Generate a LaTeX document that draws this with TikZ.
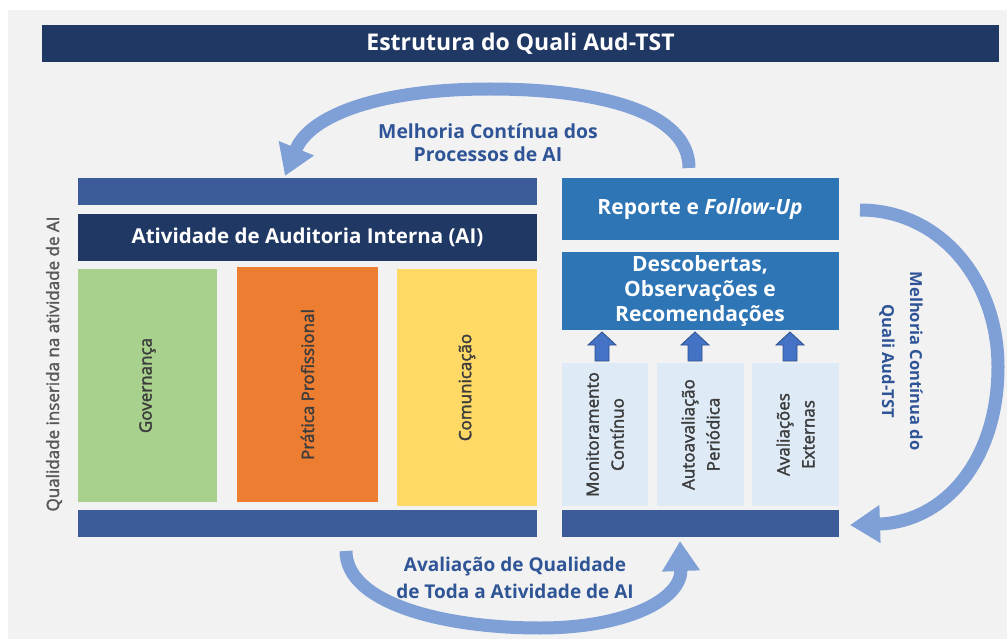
\documentclass[tikz,border=0pt]{standalone}
\usepackage{fontspec}
\setmainfont{Open Sans}
\newfontfamily\semib{Open Sans}[FakeBold=2]
\usetikzlibrary{arrows.meta}
\definecolor{bg}{RGB}{242,242,242}
\definecolor{navy}{RGB}{32,56,100}
\definecolor{midnavy}{RGB}{59,92,153}
\definecolor{repblue}{RGB}{46,117,182}
\definecolor{lightbox}{RGB}{222,235,247}
\definecolor{arcblue}{RGB}{127,160,214}
\definecolor{arctext}{RGB}{47,85,151}
\definecolor{gov}{RGB}{169,209,142}
\definecolor{prat}{RGB}{237,125,49}
\definecolor{com}{RGB}{255,217,102}
\definecolor{darktext}{RGB}{60,60,60}
\definecolor{graytext}{RGB}{89,89,89}
\definecolor{uparrow}{RGB}{68,114,196}
\definecolor{uparrowb}{RGB}{47,82,143}
\tikzset{
  box/.style={draw=none,inner sep=0pt,rectangle},
  whitetext/.style={text=white,font=\fontsize{21}{25}\selectfont\bfseries,align=center},
  vtext/.style={text=darktext,font=\fontsize{17}{25}\selectfont\semib,align=center,rotate=90},
  arctxt/.style={text=arctext,font=\fontsize{19.4}{23}\selectfont\bfseries,align=center},
  arc/.style={draw=arcblue,line width=13pt,-{Triangle[length=30pt,width=36pt]}},
  uparr/.style={draw=uparrowb,fill=uparrow,line width=0.8pt,line join=miter}
}
\begin{document}
\begin{tikzpicture}[x=1pt,y=-1pt]
\useasboundingbox (0,0) rectangle (1007,639);
\fill[white] (0,0) rectangle (1007,639);
\fill[bg] (8,10) rectangle (1007,639);

% title
\node[box,fill=navy,minimum width=957pt,minimum height=37pt,text=white,font=\fontsize{23}{28}\selectfont\bfseries] (title) at (520.5,43.5) {Estrutura do Quali Aud-TST};

% left block
\node[box,fill=midnavy,minimum width=459pt,minimum height=27pt] (ltop) at (307.5,191.5) {};
\node[box,fill=navy,minimum width=459pt,minimum height=47pt,whitetext,font=\fontsize{20.5}{25}\selectfont\bfseries] (ativ) at (307.5,237.5) {Atividade de Auditoria Interna (AI)};
\node[box,fill=gov,minimum width=139pt,minimum height=233pt] (gov) at (147.5,385.5) {};
\node[vtext] at (gov.center) {Governança};
\node[box,fill=prat,minimum width=141pt,minimum height=235pt] (prat) at (307.5,384.5) {};
\node[vtext] at (prat.center) {Prática Profissional};
\node[box,fill=com,minimum width=140pt,minimum height=237pt] (com) at (467,387.5) {};
\node[vtext] at (com.center) {Comunicação};
\node[box,fill=midnavy,minimum width=459pt,minimum height=27pt] (lbot) at (307.5,523) {};

% right block
\node[box,fill=repblue,minimum width=277pt,minimum height=62pt,whitetext] (rep) at (700,209) {Reporte e \textit{Follow-Up}};
\node[box,fill=repblue,minimum width=277pt,minimum height=78pt,whitetext] (desc) at (700,291) {Descobertas,\\Observações e\\Recomendações};
\node[box,fill=lightbox,minimum width=86pt,minimum height=143pt] (mon) at (605,434.5) {};
\node[vtext] at (mon.center) {Monitoramento\\Contínuo};
\node[box,fill=lightbox,minimum width=87pt,minimum height=143pt] (auto) at (700.5,434.5) {};
\node[vtext] at (auto.center) {Autoavaliação\\Periódica};
\node[box,fill=lightbox,minimum width=87pt,minimum height=143pt] (ext) at (795.5,434.5) {};
\node[vtext] at (ext.center) {Avaliações\\Externas};
\node[box,fill=midnavy,minimum width=277pt,minimum height=27pt] (rbot) at (700,523.5) {};

% up arrows
\foreach \cx in {602,695,790}{
  \draw[uparr] (\cx-7,361) -- (\cx-7,345) -- (\cx-14,345) -- (\cx,332) -- (\cx+14,345) -- (\cx+7,345) -- (\cx+7,361) -- cycle;
}

% left vertical text
\node[text=graytext,font=\fontsize{17}{22}\selectfont\semib,rotate=90] (qual) at (54,364) {Qualidade inserida na atividade de AI};

% arcs
\coordinate (ts) at (689,168);
\coordinate (te) at (285,176);
\draw[arc] (ts) .. controls (689,112) and (600,89) .. (490,89) .. controls (380,89) and (310,115) .. (te);
\node[arctxt] (ttxt) at (488,143) {Melhoria Contínua dos\\Processos de AI};

\coordinate (rs) at (860,210);
\coordinate (re) at (850,525);
\draw[arc] (rs) .. controls (940,210) and (998,280) .. (998,367) .. controls (998,460) and (945,522) .. (re);
\node[arctxt,rotate=-90,font=\fontsize{16.5}{28}\selectfont\bfseries] (rtxt) at (901,361) {Melhoria Contínua do\\Quali Aud-TST};

\coordinate (bs) at (346,551);
\coordinate (be) at (680,541);
\draw[arc] (bs) .. controls (346,602) and (440,628) .. (540,628) .. controls (625,628) and (682,600) .. (be);
\node[arctxt,font=\fontsize{19}{27}\selectfont\bfseries] (btxt) at (515,578) {Avaliação de Qualidade\\de Toda a Atividade de AI};
\end{tikzpicture}
\end{document}
